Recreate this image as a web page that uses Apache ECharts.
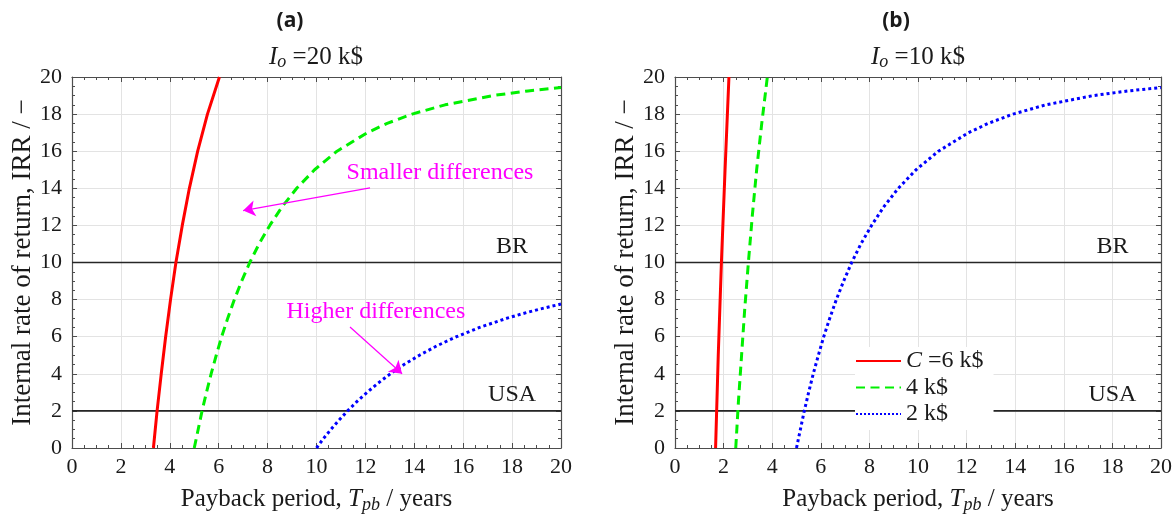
<!DOCTYPE html>
<html>
<head>
<meta charset="utf-8">
<script src="https://cdn.jsdelivr.net/npm/echarts@6/dist/echarts.min.js"></script>
<style>
  html, body { margin: 0; padding: 0; background: #fff; }
  #chart { width: 1175px; height: 514px; }
</style>
</head>
<body>
<div id="chart"></div>
<script>
// Payback period (years) vs internal rate of return (%) for annual cash flows C
// Panel (a): initial investment 20 k$
const paybackC6_I20 = [[3.33,0],[3.48,2],[3.65,4],[3.83,6],[4.03,8],[4.25,10],[4.51,12],[4.80,14],[5.14,16],[5.54,18],[6.03,20]];
const paybackC4_I20 = [[5.00,0],[5.16,1],[5.32,2],[5.50,3],[5.69,4],[5.90,5],[6.12,6],[6.37,7],[6.64,8],[6.94,9],[7.27,10],[7.65,11],[8.09,12],[8.59,13],[9.19,14],[9.92,15],[10.84,16],[12.08,17],[12.89,17.5],[13.91,18],[15.26,18.5],[17.22,19],[18.65,19.25],[20.00,19.43]];
const paybackC2_I20 = [[10.00,0],[10.28,0.5],[10.59,1],[10.92,1.5],[11.27,2],[11.65,2.5],[12.07,3],[12.52,3.5],[13.02,4],[13.58,4.5],[14.21,5],[14.91,5.5],[15.73,6],[16.67,6.5],[17.80,7],[18.45,7.25],[19.17,7.5],[20.00,7.76]];
// Panel (b): initial investment 10 k$
const paybackC6_I10 = [[1.67,0],[1.78,5],[1.91,10],[2.06,15],[2.22,20]];
const paybackC4_I10 = [[2.50,0],[2.61,2.5],[2.74,5],[2.87,7.5],[3.02,10],[3.18,12.5],[3.36,15],[3.57,17.5],[3.80,20]];
const paybackC2_I10 = [[5.00,0],[5.16,1],[5.32,2],[5.50,3],[5.69,4],[5.90,5],[6.12,6],[6.37,7],[6.64,8],[6.94,9],[7.27,10],[7.65,11],[8.09,12],[8.59,13],[9.19,14],[9.92,15],[10.84,16],[12.08,17],[12.89,17.5],[13.91,18],[15.26,18.5],[17.22,19],[18.65,19.25],[20.00,19.43]];

// Reference interest rates (%)
const refNames = ['BR', 'USA'];
const refRates = [10, 2];

const panelTags = ['(a)', '(b)'];
const investments = ['20', '10'];
const legendNames = ['C =6 k$', '4 k$', '2 k$'];
const xRange = [0, 20];
const yRange = [0, 20];

const SERIF = "'Liberation Serif', 'DejaVu Serif', serif";
const INK = '#1a1a1a';
const FS_TICK = 22;
const FS_TEXT = 25;

function mathRich(size) {
  return {
    i: { fontFamily: SERIF, fontStyle: 'italic', fontSize: size, color: INK },
    s: { fontFamily: SERIF, fontStyle: 'italic', fontSize: Math.round(size * 0.7), color: INK,
         padding: [Math.round(size * 0.45), 0, 0, 0] }
  };
}

const grids = [
  { left: 72, top: 77, width: 489, height: 371, outerBoundsMode: 'none', containLabel: false },
  { left: 675, top: 77, width: 486, height: 371, outerBoundsMode: 'none', containLabel: false }
];

const AXIS_COLOR = '#4d4d4d';

function xAxes(gi) {
  const common = {
    type: 'value', gridIndex: gi, min: xRange[0], max: xRange[1], interval: 2,
    axisLine: { show: true, onZero: false, lineStyle: { color: AXIS_COLOR, width: 1.2 } },
    axisTick: { show: true, inside: true, length: 5, lineStyle: { color: AXIS_COLOR } },
    minorTick: { show: true, splitNumber: 4, length: 3, lineStyle: { color: AXIS_COLOR } }
  };
  return [
    Object.assign({}, common, {
      position: 'bottom',
      axisLabel: { show: true, margin: 8, fontFamily: SERIF, fontSize: FS_TICK, color: INK },
      splitLine: { show: true, lineStyle: { color: '#e3e3e3', width: 1 } },
      name: 'Payback period, {i|T}{s|pb} / years',
      nameLocation: 'middle', nameGap: 37,
      nameTextStyle: { fontFamily: SERIF, fontSize: FS_TEXT, color: INK, rich: mathRich(FS_TEXT) }
    }),
    Object.assign({}, common, {
      position: 'top', axisLabel: { show: false }, splitLine: { show: false }
    })
  ];
}

function yAxes(gi) {
  const common = {
    type: 'value', gridIndex: gi, min: yRange[0], max: yRange[1], interval: 2,
    axisLine: { show: true, onZero: false, lineStyle: { color: AXIS_COLOR, width: 1.2 } },
    axisTick: { show: true, inside: true, length: 5, lineStyle: { color: AXIS_COLOR } },
    minorTick: { show: true, splitNumber: 4, length: 3, lineStyle: { color: AXIS_COLOR } }
  };
  return [
    Object.assign({}, common, {
      position: 'left',
      axisLabel: { show: true, margin: 10, fontFamily: SERIF, fontSize: FS_TICK, color: INK },
      splitLine: { show: true, lineStyle: { color: '#e3e3e3', width: 1 } },
      name: 'Internal rate of return, IRR / \u2212',
      nameLocation: 'middle', nameGap: 36, nameRotate: 90,
      nameTextStyle: { fontFamily: SERIF, fontSize: 27, color: INK }
    }),
    Object.assign({}, common, {
      position: 'right', axisLabel: { show: false }, splitLine: { show: false }
    })
  ];
}

function curve(name, data, ax, color, type) {
  return {
    type: 'line', name: name, data: data,
    xAxisIndex: ax, yAxisIndex: ax,
    symbol: 'none', smooth: false, clip: true, z: 3,
    lineStyle: { color: color, width: 3, type: type, cap: 'butt' },
    itemStyle: { color: color },
    silent: true
  };
}

function refLine(k, ax) {
  return {
    type: 'line', name: 'ref' + ax + k,
    data: [[xRange[0], refRates[k]], [xRange[1], refRates[k]]],
    xAxisIndex: ax, yAxisIndex: ax, symbol: 'none', z: 2, silent: true,
    lineStyle: { color: '#262626', width: 1.6 },
    markPoint: {
      symbol: 'circle', symbolSize: 0, silent: true,
      label: { show: true, position: 'inside', fontFamily: SERIF, fontSize: FS_TEXT - 1, color: INK },
      data: [{ coord: [18.0, refRates[k] + 0.85], value: refNames[k], label: { formatter: refNames[k] } }]
    }
  };
}

const MAGENTA = '#ff00ff';
const noteArrows = {
  type: 'line', name: 'notes', data: [], xAxisIndex: 0, yAxisIndex: 0, silent: true, z: 5,
  markLine: {
    silent: true, symbol: ['none', 'arrow'], symbolSize: 12,
    label: { show: false },
    lineStyle: { color: MAGENTA, width: 1.2, type: 'solid' },
    data: [
      [{ coord: [12.19, 14.02] }, { coord: [7.0, 12.8] }],
      [{ coord: [11.37, 6.52] }, { coord: [13.5, 4.0] }]
    ]
  },
  markPoint: {
    symbol: 'circle', symbolSize: 0, silent: true,
    label: { show: true, position: 'inside', fontFamily: SERIF, fontSize: FS_TEXT - 1, color: MAGENTA },
    data: [
      { coord: [15.05, 14.85], value: 1, label: { formatter: 'Smaller differences' } },
      { coord: [12.43, 7.35], value: 2, label: { formatter: 'Higher differences' } }
    ]
  }
};

const option = {
  backgroundColor: '#fff',
  animation: false,
  grid: grids,
  xAxis: xAxes(0).concat(xAxes(1)),
  yAxis: yAxes(0).concat(yAxes(1)),
  legend: {
    data: legendNames,
    orient: 'vertical',
    left: 855, top: 347,
    padding: [2, 10, 4, 0],
    itemWidth: 45, itemHeight: 14, itemGap: 2.5,
    backgroundColor: '#fff',
    borderWidth: 0,
    selectedMode: false,
    itemStyle: { opacity: 0, borderWidth: 0 },
    formatter: function (n) { return n.charAt(0) === 'C' ? '{i|C} ' + n.slice(2) : n; },
    textStyle: { fontFamily: SERIF, fontSize: 24, color: INK, rich: { i: mathRich(24).i } }
  },
  series: [
    refLine(0, 0), refLine(1, 0),
    refLine(0, 2), refLine(1, 2),
    curve('a6', paybackC6_I20, 0, '#ff0000', 'solid'),
    curve('a4', paybackC4_I20, 0, '#00f000', [9, 5.5]),
    curve('a2', paybackC2_I20, 0, '#0000ff', 'dotted'),
    curve(legendNames[0], paybackC6_I10, 2, '#ff0000', 'solid'),
    curve(legendNames[1], paybackC4_I10, 2, '#00f000', [9, 5.5]),
    curve(legendNames[2], paybackC2_I10, 2, '#0000ff', 'dotted'),
    noteArrows
  ],
  graphic: [
    { type: 'text', x: 290, y: 21, silent: true,
      style: { text: panelTags[0], align: 'center', verticalAlign: 'middle', font: "bold 21px 'Open Sans', 'Noto Sans', sans-serif", fill: INK } },
    { type: 'text', x: 896, y: 21, silent: true,
      style: { text: panelTags[1], align: 'center', verticalAlign: 'middle', font: "bold 21px 'Open Sans', 'Noto Sans', sans-serif", fill: INK } },
    { type: 'text', x: 316, y: 57, silent: true,
      style: { text: '{i|I}{s|o} =' + investments[0] + ' k$', align: 'center', verticalAlign: 'middle',
               fontFamily: SERIF, fontSize: FS_TEXT, fill: INK, rich: mathRich(FS_TEXT) } },
    { type: 'text', x: 918, y: 57, silent: true,
      style: { text: '{i|I}{s|o} =' + investments[1] + ' k$', align: 'center', verticalAlign: 'middle',
               fontFamily: SERIF, fontSize: FS_TEXT, fill: INK, rich: mathRich(FS_TEXT) } }
  ]
};

const chart = echarts.init(document.getElementById('chart'), null, { renderer: 'canvas' });
chart.setOption(option);
</script>
</body>
</html>
